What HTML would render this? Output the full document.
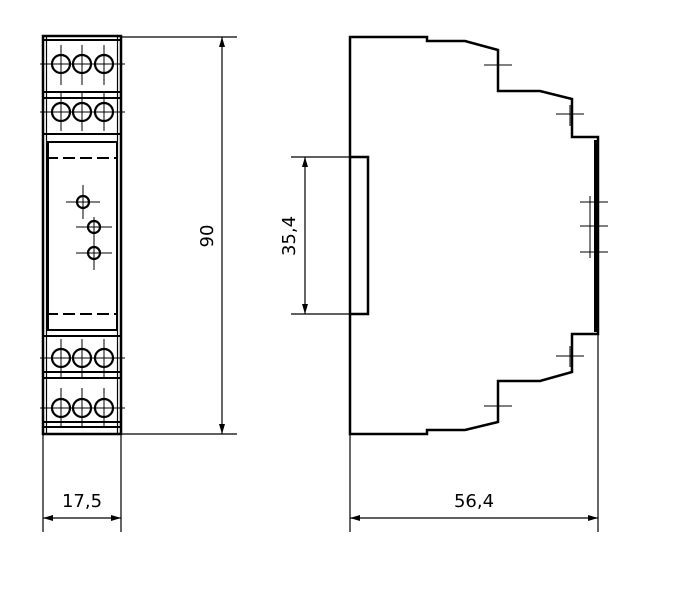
<!DOCTYPE html>
<html><head><meta charset="utf-8"><style>body{margin:0;background:#fff}svg{display:block}</style></head><body>
<svg width="675" height="612" viewBox="0 0 675 612" xmlns="http://www.w3.org/2000/svg" font-family="DejaVu Sans, Liberation Sans, sans-serif">
<defs>
<marker id="a" viewBox="0 0 10 6" refX="10" refY="3" markerWidth="10" markerHeight="6" orient="auto-start-reverse" markerUnits="userSpaceOnUse"><path d="M0,0L10,3L0,6z" fill="#000"/></marker>
</defs>
<g stroke="#000" fill="none">
<rect x="43" y="36" width="78" height="398" stroke-width="2.5"/>
<line x1="46.5" y1="36" x2="46.5" y2="434" stroke-width="1.2"/>
<line x1="117.5" y1="36" x2="117.5" y2="434" stroke-width="1.2"/>
<g stroke-width="2">
<line x1="43" y1="40" x2="121" y2="40"/>
<line x1="43" y1="92" x2="121" y2="92"/>
<line x1="43" y1="98" x2="121" y2="98"/>
<line x1="43" y1="134" x2="121" y2="134"/>
<line x1="43" y1="336" x2="121" y2="336"/>
<line x1="43" y1="372" x2="121" y2="372"/>
<line x1="43" y1="378" x2="121" y2="378"/>
<line x1="43" y1="422" x2="121" y2="422"/>
<line x1="43" y1="427" x2="121" y2="427"/>
</g>
<rect x="48" y="142" width="69" height="188" stroke-width="2"/>
<line x1="46" y1="158" x2="118" y2="158" stroke-width="2" stroke-dasharray="12,5"/>
<line x1="46" y1="314" x2="118" y2="314" stroke-width="2" stroke-dasharray="12,5"/>
<g stroke-width="2.2">
<circle cx="61" cy="64" r="9"/><circle cx="82" cy="64" r="9"/><circle cx="104" cy="64" r="9"/>
<circle cx="61" cy="112" r="9"/><circle cx="82" cy="112" r="9"/><circle cx="104" cy="112" r="9"/>
<circle cx="61" cy="358" r="9"/><circle cx="82" cy="358" r="9"/><circle cx="104" cy="358" r="9"/>
<circle cx="61" cy="408" r="9"/><circle cx="82" cy="408" r="9"/><circle cx="104" cy="408" r="9"/>
<circle cx="83" cy="202" r="6"/><circle cx="94" cy="227" r="6"/><circle cx="94" cy="253" r="6"/>
</g>
<g stroke-width="1">
<line x1="40" y1="64" x2="125" y2="64"/><line x1="40" y1="112" x2="125" y2="112"/>
<line x1="40" y1="358" x2="125" y2="358"/><line x1="40" y1="408" x2="125" y2="408"/>
<line x1="61" y1="45" x2="61" y2="85"/><line x1="82" y1="45" x2="82" y2="85"/><line x1="104" y1="45" x2="104" y2="85"/>
<line x1="61" y1="93" x2="61" y2="131"/><line x1="82" y1="93" x2="82" y2="131"/><line x1="104" y1="93" x2="104" y2="131"/>
<line x1="61" y1="339" x2="61" y2="377"/><line x1="82" y1="339" x2="82" y2="377"/><line x1="104" y1="339" x2="104" y2="377"/>
<line x1="61" y1="388" x2="61" y2="428"/><line x1="82" y1="388" x2="82" y2="428"/><line x1="104" y1="388" x2="104" y2="428"/>
<line x1="66" y1="202" x2="100" y2="202"/><line x1="83" y1="185" x2="83" y2="219"/>
<line x1="76" y1="227" x2="112" y2="227"/><line x1="94" y1="217" x2="94" y2="270"/>
<line x1="76" y1="253" x2="112" y2="253"/>
</g>
<g stroke-width="1.2">
<line x1="121" y1="37" x2="237" y2="37"/><line x1="121" y1="434" x2="237" y2="434"/>
<line x1="222" y1="37" x2="222" y2="434" marker-start="url(#a)" marker-end="url(#a)"/>
<line x1="43" y1="434" x2="43" y2="532"/><line x1="121" y1="434" x2="121" y2="532"/>
<line x1="43" y1="518" x2="121" y2="518" marker-start="url(#a)" marker-end="url(#a)"/>
<line x1="350" y1="434" x2="350" y2="532"/><line x1="598" y1="334" x2="598" y2="532"/>
<line x1="350" y1="518" x2="598" y2="518" marker-start="url(#a)" marker-end="url(#a)"/>
<line x1="291" y1="157" x2="350" y2="157"/><line x1="291" y1="314" x2="350" y2="314"/>
<line x1="305" y1="157" x2="305" y2="314" marker-start="url(#a)" marker-end="url(#a)"/>
</g>
<path d="M350,37 H427 V41 H465 L498,50 V91 H540 L572,99 V137 H598 V334 H572 V372 L540,381 H498 V422 L465,430 H427 V434 H350 Z" stroke-width="2.5"/>
<path d="M350,157 H368 V314 H350" stroke-width="2.5"/>
<line x1="596" y1="140" x2="596" y2="332" stroke-width="4"/>
<g stroke-width="1">
<line x1="484" y1="65" x2="512" y2="65"/><line x1="498" y1="55" x2="498" y2="80"/>
<line x1="556" y1="114" x2="584" y2="114"/><line x1="570" y1="105" x2="570" y2="126"/>
<line x1="580" y1="202" x2="608" y2="202"/><line x1="580" y1="226" x2="608" y2="226"/><line x1="580" y1="252" x2="608" y2="252"/>
<line x1="590" y1="196" x2="590" y2="258"/>
<line x1="556" y1="356" x2="584" y2="356"/><line x1="570" y1="346" x2="570" y2="367"/>
<line x1="484" y1="406" x2="512" y2="406"/><line x1="498" y1="396" x2="498" y2="418"/>
</g>
</g>
<g font-size="18" fill="#000" text-anchor="middle">
<text x="82" y="507">17,5</text>
<text x="474" y="507">56,4</text>
<text transform="translate(213,236) rotate(-90)">90</text>
<text transform="translate(295,236) rotate(-90)">35,4</text>
</g>
</svg>
</body></html>
